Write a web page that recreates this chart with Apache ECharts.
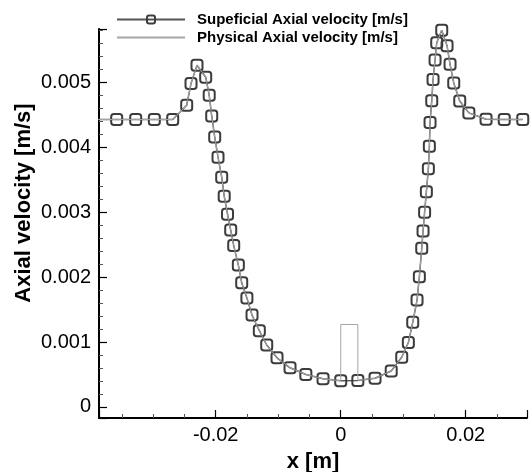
<!DOCTYPE html>
<html><head><meta charset="utf-8">
<script src="https://cdn.jsdelivr.net/npm/echarts@6/dist/echarts.min.js"></script>
<style>html,body{margin:0;padding:0;background:#fff}#c{width:530px;height:472px}</style>
</head><body><div id="c"></div>
<script>
// x positions [m] of the superficial-velocity samples
const xPos = [-0.03878,-0.03584,-0.0328,-0.02982,-0.02688,-0.02464,-0.02395,-0.02299,-0.0216,-0.02104,
  -0.02064,-0.02016,-0.01963,-0.01904,-0.01864,-0.01811,-0.0176,-0.01712,-0.01638,-0.01584,
  -0.01501,-0.01419,-0.01302,-0.01184,-0.01019,-0.00811,-0.00558,-0.00283,0,0.00274,
  0.00549,0.00808,0.00976,0.01082,0.01152,0.01221,0.01258,0.01296,0.01317,0.01342,
  0.0137,0.01402,0.01418,0.01429,0.01456,0.01477,0.01509,0.01536,0.01616,0.01701,
  0.01749,0.01808,0.01904,0.0205,0.02325,0.02616,0.02912];
// Superficial axial velocity [m/s]
const superficial = [0.004426,0.004426,0.004426,0.004426,0.004426,0.004646,0.00498,0.005262,0.005077,0.0048,
  0.004482,0.004158,0.003846,0.003538,0.003246,0.002969,0.002723,0.002485,0.002185,0.001912,
  0.001677,0.001415,0.001174,0.000954,0.000757,0.000603,0.0005,0.000434,0.000403,0.000408,
  0.000442,0.000554,0.000765,0.000992,0.001303,0.001646,0.002005,0.002442,0.002708,0.003,
  0.003312,0.003669,0.004015,0.004382,0.004717,0.005042,0.005343,0.005608,0.0058,0.005562,
  0.005277,0.004989,0.004712,0.004528,0.004431,0.004428,0.004428];
// Physical axial velocity [m/s] (x and value)
const physX = [-0.03878,-0.03584,-0.0328,-0.02982,-0.02688,-0.02464,-0.02395,-0.02299,-0.0216,-0.02104,
  -0.02064,-0.02016,-0.01963,-0.01904,-0.01864,-0.01811,-0.0176,-0.01712,-0.01638,-0.01584,
  -0.01501,-0.01419,-0.01302,-0.01184,-0.01019,-0.00811,-0.00558,-0.00283,0,0,0.00274,0.00274,
  0.00549,0.00808,0.00976,0.01082,0.01152,0.01221,0.01258,0.01296,0.01317,0.01342,
  0.0137,0.01402,0.01418,0.01429,0.01456,0.01477,0.01509,0.01536,0.01616,0.01701,
  0.01749,0.01808,0.01904,0.0205,0.02325,0.02616,0.02912];
const physV = [0.004426,0.004426,0.004426,0.004426,0.004426,0.004646,0.00498,0.005262,0.005077,0.0048,
  0.004482,0.004158,0.003846,0.003538,0.003246,0.002969,0.002723,0.002485,0.002185,0.001912,
  0.001677,0.001415,0.001174,0.000954,0.000757,0.000603,0.0005,0.000434,0.000403,0.00127,0.00127,0.000408,
  0.000442,0.000554,0.000765,0.000992,0.001303,0.001646,0.002005,0.002442,0.002708,0.003,
  0.003312,0.003669,0.004015,0.004382,0.004717,0.005042,0.005343,0.005608,0.0058,0.005562,
  0.005277,0.004989,0.004712,0.004528,0.004431,0.004428,0.004428];
const seriesNames = ['Supeficial Axial velocity [m/s]', 'Physical Axial velocity [m/s]'];
const xTitle = 'x [m]';
const yTitle = 'Axial velocity [m/s]';

const FONT = 'Liberation Sans, Arial, Helvetica, sans-serif';
const chart = echarts.init(document.getElementById('c'), null, {renderer: 'canvas'});
const axisCommon = {
  type: 'value',
  axisLine: {show: true, onZero: false, lineStyle: {color: '#000', width: 2}},
  axisTick: {show: true, inside: true, length: 8, lineStyle: {color: '#000', width: 1.2}},
  minorTick: {show: true, length: 4, lineStyle: {color: '#555', width: 1}},
  splitLine: {show: false},
  minorSplitLine: {show: false},
  axisLabel: {color: '#000', fontSize: 20, fontFamily: FONT, showMinLabel: false, showMaxLabel: false}
};
chart.setOption({
  animation: false,
  backgroundColor: '#fff',
  grid: {left: 99, right: 3, top: 29, bottom: 54, containLabel: false, outerBoundsMode: 'none'},
  legend: {
    orient: 'vertical', left: 116, top: 12, padding: 0,
    itemWidth: 68, itemHeight: 10, itemGap: 3,
    data: [
      {name: seriesNames[0]},
      {name: seriesNames[1], itemStyle: {color: 'rgba(0,0,0,0)', borderWidth: 0, opacity: 0}}
    ],
    textStyle: {fontSize: 15, fontWeight: 'bold', color: '#000', fontFamily: FONT, lineHeight: 15, padding: [0,0,0,7]},
    selectedMode: false
  },
  xAxis: Object.assign({}, axisCommon, {
    min: -0.03867, max: 0.0298, splitNumber: 3,
    minorTick: Object.assign({}, axisCommon.minorTick, {splitNumber: 4}),
    axisLabel: Object.assign({}, axisCommon.axisLabel, {margin: 7}),
    name: xTitle, nameLocation: 'middle', nameGap: 33,
    nameTextStyle: {fontSize: 22, fontWeight: 'bold', color: '#000', fontFamily: FONT}
  }),
  yAxis: Object.assign({}, axisCommon, {
    min: -0.00017, max: 0.00582, splitNumber: 6,
    minorTick: Object.assign({}, axisCommon.minorTick, {splitNumber: 5}),
    axisLabel: Object.assign({}, axisCommon.axisLabel, {margin: 8})
  }),
  graphic: [{
    type: 'text', x: 24, y: 203, rotation: Math.PI / 2,
    style: {text: yTitle, font: 'bold 22px ' + FONT, fill: '#000', align: 'center', verticalAlign: 'middle'}
  }],
  series: [{
    name: seriesNames[0], type: 'line', silent: true, z: 2,
    data: xPos.map((x, i) => [x, superficial[i]]),
    symbol: 'roundRect', symbolSize: 11, showAllSymbol: true,
    itemStyle: {color: 'rgba(255,255,255,0)', borderColor: '#3c3c3c', borderWidth: 2},
    lineStyle: {color: '#555', width: 1.5}
  }, {
    name: seriesNames[1], type: 'line', silent: true, z: 3,
    data: physX.map((x, i) => [x, physV[i]]),
    symbol: 'none',
    itemStyle: {color: '#a6a6a6'},
    lineStyle: {color: '#a6a6a6', width: 1}
  }]
});
</script></body></html>
